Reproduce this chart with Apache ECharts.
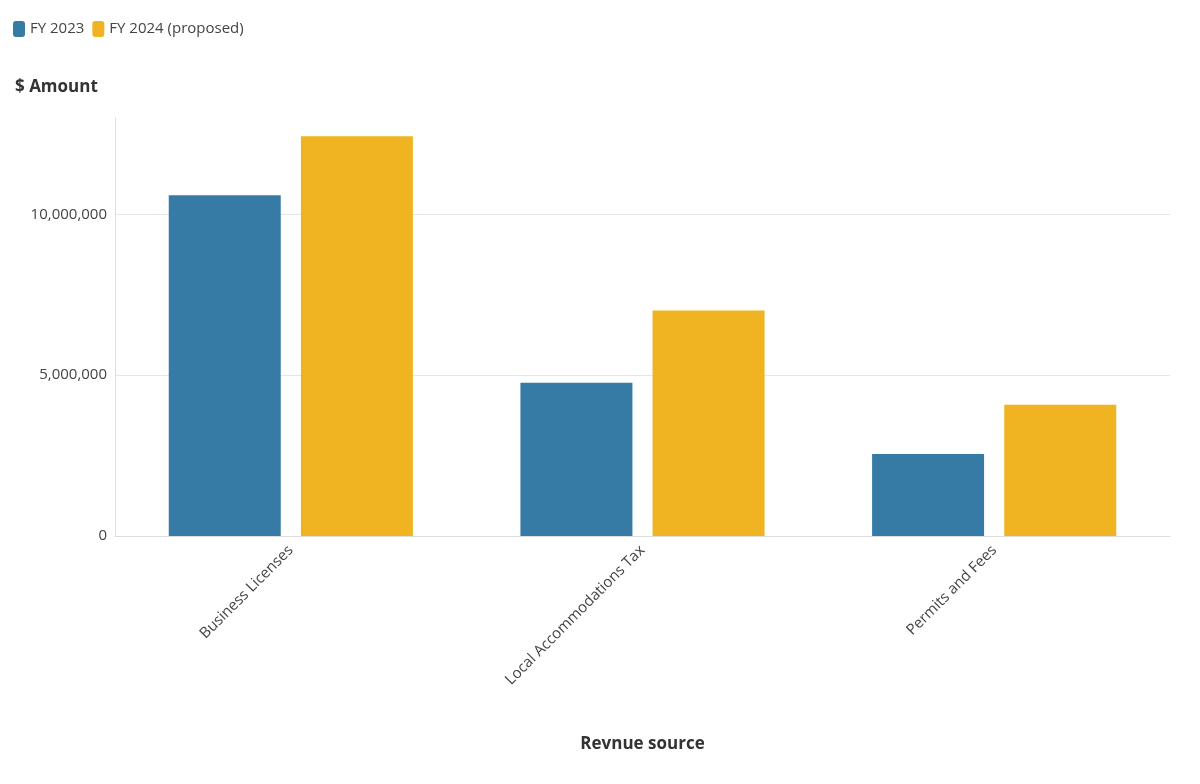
<!DOCTYPE html>
<html><head><meta charset="utf-8">
<script src="https://cdn.jsdelivr.net/npm/echarts@6/dist/echarts.min.js"></script>
<style>html,body{margin:0;background:#fff}#c{width:1200px;height:784px}</style>
</head><body><div id="c"></div>
<script>
var categories = ['Business Licenses', 'Local Accommodations Tax', 'Permits and Fees'];
var fy2023 = [10600000, 4770000, 2550000];
var fy2024 = [12430000, 7010000, 4080000];
var seriesNames = ['FY 2023', 'FY 2024 (proposed)'];

var font = 'Open Sans';
var chart = echarts.init(document.getElementById('c'));
chart.setOption({
  textStyle: {fontFamily: font},
  legend: {
    left: 8, top: 16, itemWidth: 12, itemHeight: 16, itemGap: 8,
    icon: 'roundRect',
    textStyle: {fontSize: 15, color: '#444', fontFamily: font},
    data: seriesNames
  },
  grid: {left: 115, right: 30, top: 118, bottom: 248},
  xAxis: {
    type: 'category', data: categories,
    name: 'Revnue source', nameLocation: 'middle', nameGap: 200,
    nameTextStyle: {fontSize: 17, fontWeight: 'bold', color: '#333'},
    axisLine: {lineStyle: {color: '#ddd'}},
    axisTick: {show: false},
    axisLabel: {rotate: 45, fontSize: 15, color: '#444', margin: 12}
  },
  yAxis: {
    type: 'value', min: 0, max: 13000000, interval: 5000000,
    name: '$ Amount', nameLocation: 'end', nameGap: 22,
    nameTextStyle: {fontSize: 17, fontWeight: 'bold', color: '#333', align: 'left', padding: [0, 0, 0, -100]},
    axisLine: {show: true, lineStyle: {color: '#ddd'}},
    axisTick: {show: false},
    axisLabel: {fontSize: 15, color: '#444', showMaxLabel: false,
      formatter: function (v) { return v.toLocaleString('en-US'); }},
    splitLine: {showMaxLine: false, lineStyle: {color: '#e6e6e6'}}
  },
  series: [
    {name: seriesNames[0], type: 'bar', data: fy2023, barWidth: 112, barGap: '18%',
      itemStyle: {color: '#2e77a2', opacity: 0.97}},
    {name: seriesNames[1], type: 'bar', data: fy2024, barWidth: 112,
      itemStyle: {color: '#f0b21c', opacity: 0.97}}
  ]
});
</script></body></html>
